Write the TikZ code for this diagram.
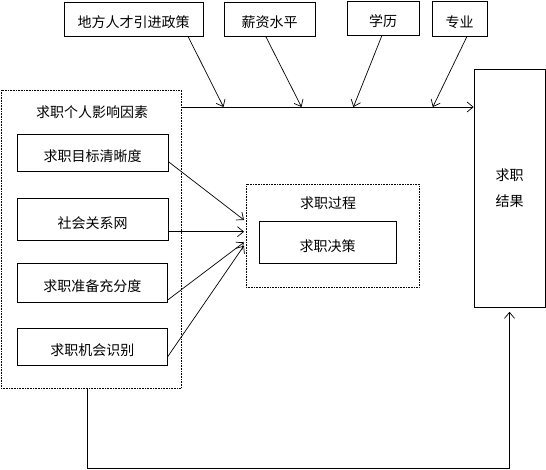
\documentclass[tikz,border=0pt]{standalone}
\usepackage{fontspec}
\setmainfont{Noto Sans CJK SC}
\usetikzlibrary{arrows.meta}
\begin{document}
\begin{tikzpicture}[x=1pt,y=-1pt,
  font=\fontsize{14}{16}\selectfont,
  bx/.style={draw, line width=0.8pt, inner sep=0pt},
  box/.style={bx, text height=19pt, text depth=1pt},
  grp/.style={draw, line width=0.7pt, dash pattern=on 0.8pt off 0.8pt, inner sep=0pt},
  arr/.style={line width=0.7pt, -{Straight Barb[length=6pt,width=10pt]}},
  ln/.style={line width=0.8pt}]
\useasboundingbox (0,0) rectangle (546,470);
\fill[white] (0,0) rectangle (546,470);

% top factor boxes
\node[box, minimum width=139pt, minimum height=34pt] (p1) at (133.5,19) {地方人才引进政策};
\node[box, minimum width=91pt, minimum height=34pt] (p2) at (269.5,19) {薪资水平};
\node[box, minimum width=72pt, minimum height=34pt] (p3) at (383,18) {学历};
\node[box, minimum width=55pt, minimum height=35pt] (p4) at (459.5,18.5) {专业};

% result box
\node[bx, minimum width=71pt, minimum height=238pt, align=center] (r) at (509.5,188) {求职\\[10pt]结果};

% personal factors group
\node[grp, minimum width=180.5pt, minimum height=298pt] (o) at (91.25,239) {};
\node (ot) at (92,112) {求职个人影响因素};
\node[box, minimum width=150.7pt, minimum height=36.7pt] (b1) at (92.7,152.7) {求职目标清晰度};
\node[box, minimum width=150.7pt, minimum height=41.7pt] (b2) at (92.7,219.2) {社会关系网};
\node[box, minimum width=150pt, minimum height=38.7pt] (b3) at (92.3,282.7) {求职准备充分度};
\node[box, minimum width=150pt, minimum height=36.7pt] (b4) at (92.3,346.7) {求职机会识别};

% process group
\node[grp, minimum width=173pt, minimum height=103.3pt] (q) at (332.5,235.7) {};
\node (qt) at (328,203.3) {求职过程};
\node[box, minimum width=137pt, minimum height=41.6pt] (d) at (327.5,242.5) {求职决策};

% junction points on main line
\coordinate (j1) at (223.5,107);
\coordinate (j2) at (301.5,107);
\coordinate (j3) at (353.4,107);
\coordinate (j4) at (432.8,107);

\draw[arr] ([xshift=54.5pt]p1.south) -- (j1);
\draw[arr] ([xshift=-3.8pt]p2.south) -- (j2);
\draw[arr] ([xshift=-1pt]p3.south) -- (j3);
\draw[arr] ([xshift=7.5pt]p4.south) -- (j4);
\draw[arr] (o.east |- j1) -- (r.west |- j1);

% arrows into process
\coordinate (t1) at (244,220);
\coordinate (t2) at (244,231.7);
\coordinate (t3) at (244,242.3);
\coordinate (t4) at (244,245.7);
\draw[arr] ([yshift=-9pt]b1.east) -- (t1);
\draw[arr] ([yshift=-12.5pt]b2.east) -- (t2);
\draw[arr] ([yshift=-17.3pt]b3.east) -- (t3);
\draw[arr] ([yshift=-10pt]b4.east) -- (t4);

% feedback
\coordinate (f1) at (87,468);
\draw[arr] (o.south -| f1) -- (f1) -| ([yshift=-4.4pt]r.south);
\end{tikzpicture}
\end{document}
